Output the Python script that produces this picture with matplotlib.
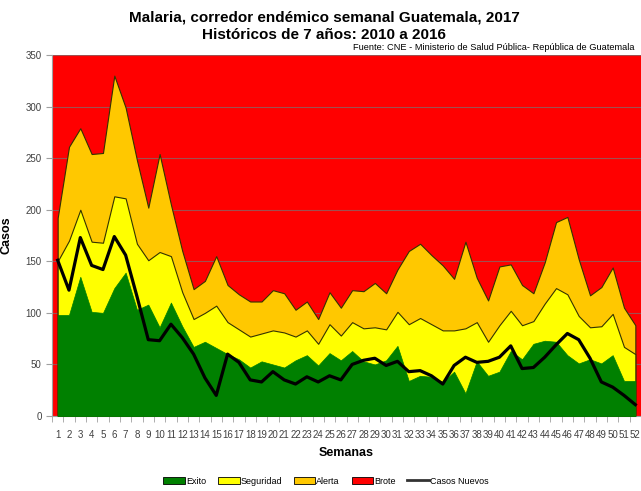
import numpy as np
import matplotlib.pyplot as plt
from matplotlib.patches import Patch
from matplotlib.lines import Line2D

plt.rcParams['font.family'] = ['Liberation Sans', 'DejaVu Sans']

semanas = np.arange(1, 53)

# limites del corredor endemico (historicos 2010-2016)
exito = [98, 98, 135, 101, 100, 124, 139, 103, 108, 86, 110, 87, 67, 72, 66, 60,
         55, 47, 53, 50, 47, 54, 59, 49, 61, 54, 63, 53, 50, 54, 68, 34,
         39, 38, 33, 43, 22, 53, 39, 43, 63, 55, 70, 73, 72, 59, 51, 55,
         51, 59, 34, 34]
seguridad = [150, 170, 200, 169, 168, 213, 211, 167, 151, 159, 155, 120, 94, 100, 107, 91,
             84, 77, 80, 83, 81, 77, 83, 70, 89, 78, 91, 85, 86, 84, 101, 89,
             95, 89, 83, 83, 85, 91, 72, 88, 102, 88, 92, 109, 124, 118, 97, 86,
             87, 99, 67, 60]
alerta = [192, 261, 279, 254, 255, 330, 299, 248, 202, 254, 205, 160, 123, 131, 155, 127,
          118, 111, 111, 122, 119, 103, 111, 94, 120, 105, 122, 121, 129, 119, 142, 160,
          167, 156, 146, 133, 169, 134, 112, 145, 147, 127, 119, 149, 188, 193, 152, 117,
          125, 144, 105, 88]

# casos nuevos 2017
casos_nuevos = [151, 122, 173, 146, 142, 174, 156, 116, 74, 73, 89, 76, 60, 37, 20, 60,
                52, 35, 33, 43, 35, 31, 38, 33, 39, 35, 50, 54, 56, 49, 53, 43,
                44, 39, 31, 49, 57, 52, 53, 57, 68, 46, 47, 57, 69, 80, 74, 56,
                33, 28, 20, 11]

c_exito = '#008000'
c_seg = '#ffff00'
c_alerta = '#ffc800'
c_brote = '#ff0000'

fig = plt.figure(figsize=(6.41, 4.91), dpi=100)
ax = fig.add_axes([52/641, 1 - 416/491, 589/641, 361/491])
ax.set_facecolor(c_brote)

edge = dict(edgecolor='#333300', linewidth=0.8)
ax.fill_between(semanas, 0, alerta, facecolor=c_alerta, zorder=2, **edge)
ax.fill_between(semanas, 0, seguridad, facecolor=c_seg, zorder=3, **edge)
ax.fill_between(semanas, 0, exito, facecolor=c_exito, zorder=4, edgecolor=c_exito, linewidth=0.5)
ax.plot(semanas, casos_nuevos, color='black', linewidth=2.3, zorder=5)

ax.set_xlim(0.5, 52.5)
ax.set_ylim(0, 350)
ax.set_yticks(np.arange(0, 351, 50))
ax.set_xticks(semanas)
ax.set_xticks(np.arange(0.5, 53, 1), minor=True)
ax.tick_params(axis='x', which='major', length=0, labelsize=7, labelcolor='#404040', pad=10)
ax.tick_params(axis='x', which='minor', length=4, color='#a0a0a0')
ax.tick_params(axis='y', length=4, color='#a0a0a0', labelsize=7, labelcolor='#404040')
ax.yaxis.grid(True, color='#a05050', linewidth=0.8)
ax.set_axisbelow(True)
for s in ['top', 'right']:
    ax.spines[s].set_visible(False)
for s in ['left', 'bottom']:
    ax.spines[s].set_color('#a0a0a0')

ax.set_xlabel('Semanas', fontsize=9, fontweight='bold', labelpad=5)
ax.set_ylabel('Casos', fontsize=9, fontweight='bold', labelpad=9)

fig.text(324/641, 1 - 17/491, 'Malaria, corredor endémico semanal Guatemala, 2017',
         ha='center', va='center', fontsize=11, fontweight='bold')
fig.text(324/641, 1 - 35/491, 'Históricos de 7 años: 2010 a 2016',
         ha='center', va='center', fontsize=11, fontweight='bold')
fig.text(353/641, 1 - 47/491, 'Fuente: CNE - Ministerio de Salud Pública- República de Guatemala',
         ha='left', va='center', fontsize=6.7)

handles = [Patch(facecolor=c_exito, edgecolor='black', linewidth=0.6),
           Patch(facecolor=c_seg, edgecolor='black', linewidth=0.6),
           Patch(facecolor=c_alerta, edgecolor='black', linewidth=0.6),
           Patch(facecolor=c_brote, edgecolor='black', linewidth=0.6),
           Line2D([0], [0], color='#333333', linewidth=2)]
fig.legend(handles, ['Exito', 'Seguridad', 'Alerta', 'Brote', 'Casos Nuevos'],
           loc='center', bbox_to_anchor=(326/641, 1 - 481/491), ncol=5, frameon=False,
           fontsize=6.5, handlelength=2.4, handleheight=0.7, handletextpad=0.1,
           columnspacing=1.3)

fig.savefig('out.png', dpi=100)
